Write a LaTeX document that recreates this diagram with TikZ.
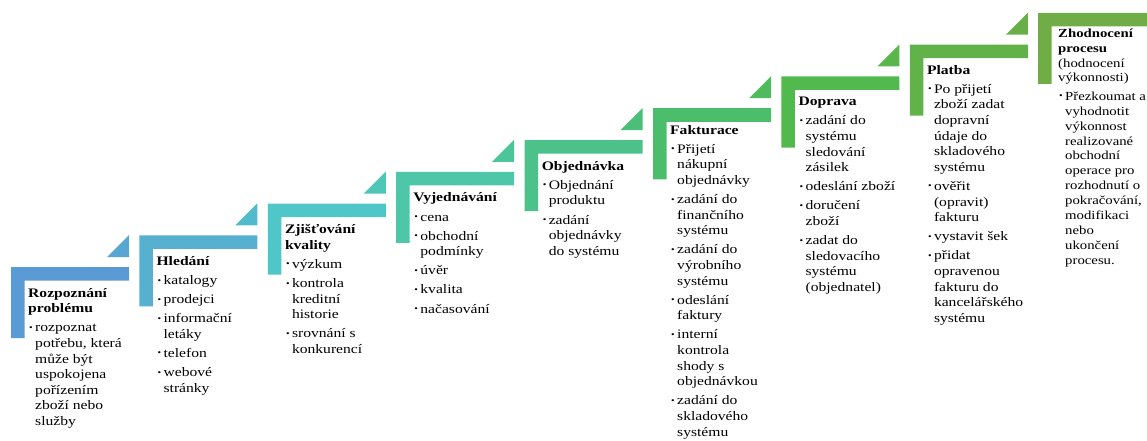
\documentclass[tikz,border=0pt]{standalone}
\usepackage{fontspec}
\setmainfont{Liberation Serif}[FakeStretch=1.2]
\definecolor{c1}{HTML}{5B9BD5}
\definecolor{c2}{HTML}{55B1CF}
\definecolor{c3}{HTML}{4FC6C8}
\definecolor{c4}{HTML}{4EC6A8}
\definecolor{c5}{HTML}{4CC18A}
\definecolor{c6}{HTML}{4BBD6B}
\definecolor{c7}{HTML}{52B94E}
\definecolor{c8}{HTML}{62B24A}
\definecolor{c9}{HTML}{70AD47}
\newcommand{\fl}{\rule{0pt}{11pt}}
\newcommand{\bu}{\hspace*{1pt}\makebox[6pt][l]{\fontsize{8.5}{8.5}\selectfont\raisebox{1.5pt}{•}}}
\newcommand{\ct}{\hspace*{7pt}}
\newcommand{\G}{\\[3.5pt]}
\tikzset{
  txt/.style={anchor=north west, inner sep=0pt, align=left, font=\fontsize{13}{15.6}\selectfont},
}
\begin{document}
\begin{tikzpicture}[x=1pt,y=-1pt]
\useasboundingbox (0,0) rectangle (1147,441);
% L shapes and triangles
\foreach \i/\c/\d in {1/c1/c2,2/c2/c3,3/c3/c4,4/c4/c5,5/c5/c6,6/c6/c7,7/c7/c8,8/c8/c9,9/c9/c9}{
  \pgfmathsetmacro{\X}{11+128.4*(\i-1)}
  \pgfmathsetmacro{\Y}{267-31.75*(\i-1)}
  \fill[\c] (\X,\Y) -- ++(118,0) -- ++(0,13.5) -- ++(-104.5,0) -- ++(0,57.5) -- ++(-13.5,0) -- cycle;
  \ifnum\i<9
    \fill[\c!50!\d] (\X+96,\Y-10) -- (\X+118,\Y-10) -- (\X+118,\Y-32) -- cycle;
  \fi
}
% texts
\node[txt] (t1) at (28,286) {\fl\textbf{Rozpoznání}\\\textbf{problému}\G
\bu rozpoznat\\\ct potřebu, která\\\ct může být\\\ct uspokojena\\\ct pořízením\\\ct zboží nebo\\\ct služby};
\node[txt] (t2) at (156.4,254.25) {\fl\textbf{Hledání}\G
\bu katalogy\G\bu prodejci\G\bu informační\\\ct letáky\G\bu telefon\G\bu webové\\\ct stránky};
\node[txt] (t3) at (284.8,222.5) {\fl\textbf{Zjišťování}\\\textbf{kvality}\G
\bu výzkum\G\bu kontrola\\\ct kreditní\\\ct historie\G\bu srovnání s\\\ct konkurencí};
\node[txt] (t4) at (413.2,190.75) {\fl\textbf{Vyjednávání}\G
\bu cena\G\bu obchodní\\\ct podmínky\G\bu úvěr\G\bu kvalita\G\bu načasování};
\node[txt] (t5) at (541.6,159) {\fl\textbf{Objednávka}\G
\bu Objednání\\\ct produktu\G\bu zadání\\\ct objednávky\\\ct do systému};
\node[txt] (t6) at (670,123) {\fl\textbf{Fakturace}\G
\bu Přijetí\\\ct nákupní\\\ct objednávky\G\bu zadání do\\\ct finančního\\\ct systému\G
\bu zadání do\\\ct výrobního\\\ct systému\G\bu odeslání\\\ct faktury\G
\bu interní\\\ct kontrola\\\ct shody s\\\ct objednávkou\G\bu zadání do\\\ct skladového\\\ct systému};
\node[txt] (t7) at (798.4,94.5) {\fl\textbf{Doprava}\G
\bu zadání do\\\ct systému\\\ct sledování\\\ct zásilek\G\bu odeslání zboží\G\bu doručení\\\ct zboží\G
\bu zadat do\\\ct sledovacího\\\ct systému\\\ct (objednatel)};
\node[txt] (t8) at (926.8,63) {\fl\textbf{Platba}\G
\bu Po přijetí\\\ct zboží zadat\\\ct dopravní\\\ct údaje do\\\ct skladového\\\ct systému\G
\bu ověřit\\\ct (opravit)\\\ct fakturu\G\bu vystavit šek\G
\bu přidat\\\ct opravenou\\\ct fakturu do\\\ct kancelářského\\\ct systému};
\node[txt, font=\fontsize{12.3}{14.9}\selectfont] (t9) at (1058,26) {\fl\textbf{Zhodnocení}\\\textbf{procesu}\\(hodnocení\\výkonnosti)\G
\bu Přezkoumat a\\\ct vyhodnotit\\\ct výkonnost\\\ct realizované\\\ct obchodní\\\ct operace pro\\\ct rozhodnutí o\\\ct pokračování,\\\ct modifikaci\\\ct nebo\\\ct ukončení\\\ct procesu.};
\end{tikzpicture}
\end{document}
